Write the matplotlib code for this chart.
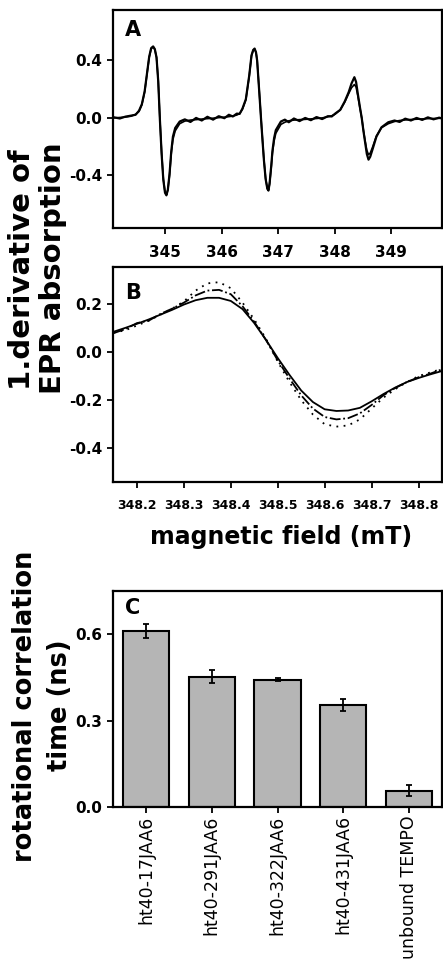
import matplotlib
matplotlib.use("Agg")
import matplotlib.pyplot as plt
import numpy as np

plt.rcParams['font.family'] = ['DejaVu Sans']

# ---------------- Panel A data (full spectrum) ----------------
a_field = [344.10, 344.20, 344.30, 344.40, 344.48, 344.54, 344.59, 344.64, 344.68, 344.72,
           344.755, 344.79, 344.82, 344.85, 344.88, 344.91, 344.94, 344.97, 345.00, 345.025,
           345.05, 345.08, 345.11, 345.14, 345.18, 345.26, 345.35, 345.45, 345.55, 345.65,
           345.75, 345.85, 345.95, 346.05, 346.13, 346.20, 346.27, 346.32, 346.37, 346.43,
           346.49, 346.53, 346.56, 346.585, 346.61, 346.63, 346.67, 346.70, 346.73, 346.75,
           346.78, 346.81, 346.83, 346.85, 346.88, 346.90, 346.93, 346.96, 347.05, 347.12,
           347.19, 347.28, 347.38, 347.48, 347.58, 347.68, 347.78, 347.88, 347.95, 348.01,
           348.10, 348.18, 348.25, 348.30, 348.35, 348.38, 348.41, 348.45, 348.48, 348.51,
           348.54, 348.57, 348.60, 348.63, 348.67, 348.74, 348.83, 348.95, 349.06, 349.15,
           349.25, 349.35, 349.45, 349.55, 349.65, 349.75, 349.85, 349.90]
a_fit = [0.000, 0.003, 0.006, 0.012, 0.025, 0.045, 0.090, 0.180, 0.300, 0.420,
         0.480, 0.493, 0.475, 0.420, 0.260, -0.010, -0.240, -0.420, -0.515, -0.532,
         -0.500, -0.400, -0.250, -0.150, -0.090, -0.040, -0.022, -0.015, -0.012, -0.008,
         -0.005, -0.002, 0.002, 0.005, 0.009, 0.013, 0.020, 0.030, 0.060, 0.125,
         0.290, 0.430, 0.470, 0.478, 0.455, 0.400, 0.170, -0.010, -0.180, -0.290,
         -0.420, -0.490, -0.503, -0.460, -0.340, -0.246, -0.160, -0.107, -0.045, -0.030,
         -0.020, -0.015, -0.012, -0.010, -0.007, -0.004, 0.000, 0.008, 0.015, 0.026,
         0.056, 0.110, 0.170, 0.210, 0.232, 0.215, 0.155, 0.065, 0.000, -0.085,
         -0.160, -0.225, -0.255, -0.245, -0.205, -0.125, -0.068, -0.040, -0.025, -0.018,
         -0.014, -0.011, -0.009, -0.007, -0.005, -0.004, -0.003, -0.002]
a_data = [0.004, -0.004, 0.009, 0.016, 0.022, 0.050, 0.095, 0.185, 0.305, 0.425,
          0.485, 0.497, 0.478, 0.420, 0.255, -0.015, -0.250, -0.430, -0.520, -0.538,
          -0.500, -0.390, -0.235, -0.130, -0.070, -0.025, -0.010, -0.028, 0.000, -0.018,
          0.008, -0.012, 0.012, -0.002, 0.022, 0.010, 0.030, 0.028, 0.065, 0.130,
          0.295, 0.435, 0.472, 0.482, 0.455, 0.398, 0.165, -0.015, -0.185, -0.295,
          -0.425, -0.492, -0.505, -0.455, -0.330, -0.230, -0.140, -0.085, -0.025, -0.012,
          -0.030, -0.004, -0.022, 0.000, -0.016, 0.006, -0.008, 0.012, 0.010, 0.030,
          0.056, 0.115, 0.180, 0.240, 0.283, 0.250, 0.170, 0.070, 0.000, -0.090,
          -0.170, -0.250, -0.290, -0.270, -0.220, -0.130, -0.065, -0.030, -0.018, -0.028,
          -0.005, -0.018, 0.000, -0.014, 0.004, -0.010, 0.002, -0.004]

# ---------------- Panel B data (zoom on high-field line) ----------------
b_field = [348.150, 348.175, 348.200, 348.225, 348.250, 348.275, 348.300, 348.325, 348.350, 348.375,
           348.400, 348.425, 348.450, 348.475, 348.500, 348.525, 348.550, 348.575, 348.600, 348.625,
           348.650, 348.675, 348.700, 348.725, 348.750, 348.775, 348.800, 348.825, 348.850]
b_fit = [0.084, 0.100, 0.117, 0.135, 0.155, 0.175, 0.197, 0.215, 0.225, 0.225,
         0.212, 0.178, 0.120, 0.050, -0.025, -0.095, -0.160, -0.208, -0.238, -0.245,
         -0.243, -0.232, -0.205, -0.175, -0.148, -0.125, -0.108, -0.093, -0.079]
b_data = [0.078, 0.095, 0.120, 0.130, 0.158, 0.180, 0.205, 0.235, 0.255, 0.258,
          0.240, 0.190, 0.125, 0.050, -0.035, -0.110, -0.180, -0.235, -0.270, -0.280,
          -0.275, -0.255, -0.220, -0.180, -0.150, -0.125, -0.105, -0.090, -0.072]
b_sim = [0.080, 0.090, 0.110, 0.130, 0.155, 0.180, 0.210, 0.255, 0.285, 0.290,
         0.265, 0.205, 0.135, 0.055, -0.040, -0.125, -0.200, -0.260, -0.300, -0.310,
         -0.305, -0.280, -0.235, -0.190, -0.155, -0.125, -0.100, -0.085, -0.070]

# ---------------- Panel C data ----------------
c_labels = ["ht40-17JAA6", "ht40-291JAA6", "ht40-322JAA6", "ht40-431JAA6", "unbound TEMPO"]
c_values = [0.610, 0.453, 0.442, 0.354, 0.057]
c_errors = [0.024, 0.021, 0.006, 0.022, 0.020]

W, H = 443, 967
fig = plt.figure(figsize=(W / 100, H / 100), dpi=100)


def frac_axes(left, top, right, bottom):
    return fig.add_axes([left / W, 1 - bottom / H, (right - left) / W, (bottom - top) / H])


def style(ax):
    for s in ax.spines.values():
        s.set_linewidth(1.6)
    ax.tick_params(direction='out', length=4, width=1.3, labelsize=11)
    for lab in ax.get_xticklabels() + ax.get_yticklabels():
        lab.set_fontweight('bold')


# Panel A
axA = frac_axes(113, 10, 442, 228)
axA.plot(a_field, a_data, color='black', lw=1.6)
axA.plot(a_field, a_fit, color='black', lw=1.2)
axA.set_xlim(344.08, 349.9)
axA.set_ylim(-0.765, 0.75)
axA.set_xticks([345, 346, 347, 348, 349])
axA.set_yticks([-0.4, 0.0, 0.4])
axA.set_yticklabels(['-0.4', '0.0', '0.4'])
style(axA)
axA.tick_params(axis='x', pad=8)
axA.text(0.06, 0.91, 'A', transform=axA.transAxes, ha='center', va='center',
         fontsize=15, fontweight='bold')

# Panel B
axB = frac_axes(113, 267, 442, 482)
axB.plot(b_field, b_fit, color='black', lw=1.3, ls='-')
axB.plot(b_field, b_data, color='black', lw=1.3, ls=(0, (6, 1.5, 1, 1.5)))
axB.plot(b_field, b_sim, color='black', lw=1.3, ls=(0, (1, 3)))
axB.set_xlim(348.149, 348.85)
axB.set_ylim(-0.54, 0.353)
axB.set_xticks([348.2, 348.3, 348.4, 348.5, 348.6, 348.7, 348.8])
axB.set_xticklabels(['348.2', '348.3', '348.4', '348.5', '348.6', '348.7', '348.8'])
axB.set_yticks([-0.4, -0.2, 0.0, 0.2])
axB.set_yticklabels(['-0.4', '-0.2', '0.0', '0.2'])
style(axB)
axB.tick_params(axis='x', labelsize=9, pad=8)
axB.text(0.06, 0.88, 'B', transform=axB.transAxes, ha='center', va='center',
         fontsize=15, fontweight='bold')

# Panel C
axC = frac_axes(113, 591, 442, 807)
pos = np.arange(len(c_labels))
axC.bar(pos, c_values, width=0.7, color='#b5b5b5', edgecolor='black', linewidth=1.5,
        yerr=c_errors, error_kw=dict(ecolor='black', elinewidth=1.3, capsize=2, capthick=1.3))
axC.set_xlim(-0.5, 4.5)
axC.set_ylim(0, 0.75)
axC.set_yticks([0.0, 0.3, 0.6])
axC.set_yticklabels(['0.0', '0.3', '0.6'])
axC.set_xticks(pos)
axC.set_xticklabels(c_labels, rotation=90)
style(axC)
axC.tick_params(axis='x', labelsize=12.5, pad=2)
for lab in axC.get_xticklabels():
    lab.set_fontweight('normal')
axC.text(0.06, 0.92, 'C', transform=axC.transAxes, ha='center', va='center',
         fontsize=15, fontweight='bold')

# Shared labels
fig.text(22 / W, 1 - 270 / H, '1.derivative of', rotation=90, ha='center', va='center',
         fontsize=21, fontweight='bold')
fig.text(53 / W, 1 - 268 / H, 'EPR absorption', rotation=90, ha='center', va='center',
         fontsize=21, fontweight='bold')
fig.text(281 / W, 1 - 537 / H, 'magnetic field (mT)', ha='center', va='center',
         fontsize=17, fontweight='bold')
fig.text(25 / W, 1 - 706 / H, 'rotational correlation', rotation=90, ha='center', va='center',
         fontsize=18.5, fontweight='bold')
fig.text(60 / W, 1 - 705 / H, 'time (ns)', rotation=90, ha='center', va='center',
         fontsize=18.5, fontweight='bold')

fig.savefig('out.png', dpi=100)
